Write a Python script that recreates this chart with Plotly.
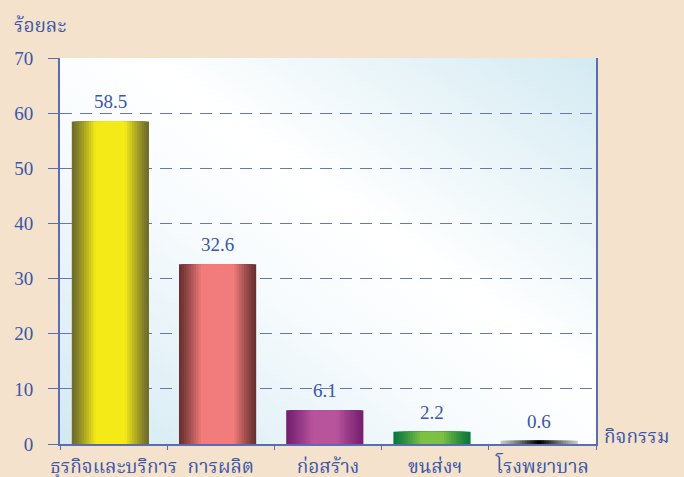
import base64
import plotly.graph_objects as go

# ข้อมูล
categories = ["ธุรกิจและบริการ", "การผลิต", "ก่อสร้าง", "ขนส่งฯ", "โรงพยาบาล"]
values = [58.5, 32.6, 6.1, 2.2, 0.6]
y_ticks = [0, 10, 20, 30, 40, 50, 60, 70]

# สีแท่ง: (ขอบ, กลาง, สัดส่วนส่วนกลางที่เป็นสีเต็ม)
edge_colors = ["#706d2c", "#6c3232", "#772171", "#0b783c", "#c4c4c4"]
center_colors = ["#f3ea18", "#f27b7b", "#b7549c", "#7cc144", "#000000"]
flat_part = [0.42, 0.45, 0.35, 0.3, 0.06]

TXT = "#3a56a8"
AXIS = "#5a6db3"
FONT = "Liberation Serif, Noto Serif Thai, Times New Roman, serif"
BAR_W = 0.72
SHIFT = 0.03
N_LAYERS = 16


def hex_rgb(h):
    h = h.lstrip("#")
    return [int(h[i:i + 2], 16) for i in (0, 2, 4)]


def mix(c1, c2, t):
    a, b = hex_rgb(c1), hex_rgb(c2)
    return "rgb(%d,%d,%d)" % tuple(round(a[i] + (b[i] - a[i]) * t) for i in range(3))


# พื้นหลังไล่สีของพื้นที่กราฟ
svg = (
    "<svg xmlns='http://www.w3.org/2000/svg' width='100' height='100' preserveAspectRatio='none'>"
    "<defs><linearGradient id='g' x1='1' y1='0' x2='0' y2='1'>"
    "<stop offset='0' stop-color='#d3eaf2'/>"
    "<stop offset='0.42' stop-color='#ffffff'/>"
    "<stop offset='0.6' stop-color='#f7fbfd'/>"
    "<stop offset='1' stop-color='#d2e9f2'/>"
    "</linearGradient></defs>"
    "<rect width='100' height='100' fill='url(#g)'/></svg>"
)
bg_src = "data:image/svg+xml;base64," + base64.b64encode(svg.encode()).decode()

fig = go.Figure()

# แท่งซ้อนกันหลายชั้นเพื่อจำลองการไล่สีแนวนอน
for k in range(N_LAYERS):
    f = 1 - k / N_LAYERS
    w = BAR_W * f
    colors = []
    for i in range(len(categories)):
        t = min(1.0, (1 - f) / (1 - flat_part[i]))
        t = t ** 1.15
        colors.append(mix(edge_colors[i], center_colors[i], t))
    fig.add_trace(go.Bar(
        x=categories,
        y=values,
        width=[w] * len(categories),
        offset=-w / 2 - SHIFT,
        marker=dict(color=colors, line=dict(width=0)),
        showlegend=False,
        hoverinfo="skip" if k else None,
    ))

# ป้ายค่าบนแท่ง
for c, v in zip(categories, values):
    fig.add_annotation(
        x=c, y=v, text=f"{v:.1f}", showarrow=False,
        yanchor="bottom", yshift=7, xshift=-3,
        font=dict(family=FONT, size=19, color=TXT),
    )

fig.add_annotation(
    xref="paper", yref="paper", x=-0.037, y=1.085,
    text="ร้อยละ", showarrow=False, xanchor="center", yanchor="middle",
    font=dict(family=FONT, size=19, color=TXT),
)
fig.add_annotation(
    xref="paper", yref="paper", x=1.012, y=0.02,
    text="กิจกรรม", showarrow=False, xanchor="left", yanchor="middle",
    font=dict(family=FONT, size=19, color=TXT),
)

fig.add_layout_image(
    source=bg_src, xref="paper", yref="paper", x=0, y=1,
    sizex=1, sizey=1, xanchor="left", yanchor="top",
    sizing="stretch", layer="below",
)

fig.update_layout(
    width=684,
    height=477,
    barmode="overlay",
    paper_bgcolor="#f4e2cd",
    plot_bgcolor="rgba(0,0,0,0)",
    margin=dict(l=60, r=88, t=58, b=33, autoexpand=False),
    font=dict(family=FONT, size=19, color=TXT),
)

fig.update_xaxes(
    showline=True, linecolor=AXIS, linewidth=2,
    ticks="outside", tickson="boundaries", ticklen=4, tickcolor=AXIS,
    ticklabelstandoff=4, tickangle=0, automargin=False,
    showgrid=False,
    tickfont=dict(family=FONT, size=19, color=TXT),
)
fig.update_yaxes(
    range=[0, 70], tickvals=y_ticks,
    showline=True, linecolor=AXIS, linewidth=2, mirror=True,
    ticks="outside", ticklen=10, tickcolor=AXIS,
    ticklabelstandoff=11,
    showgrid=True, gridcolor="#6b76ac", gridwidth=1, griddash="12px,8px",
    zeroline=False, automargin=False,
    tickfont=dict(family=FONT, size=19, color=TXT),
)

fig.write_html(
    "out.html",
    config={"displayModeBar": False},
    post_script="document.body.style.margin='0';",
)
